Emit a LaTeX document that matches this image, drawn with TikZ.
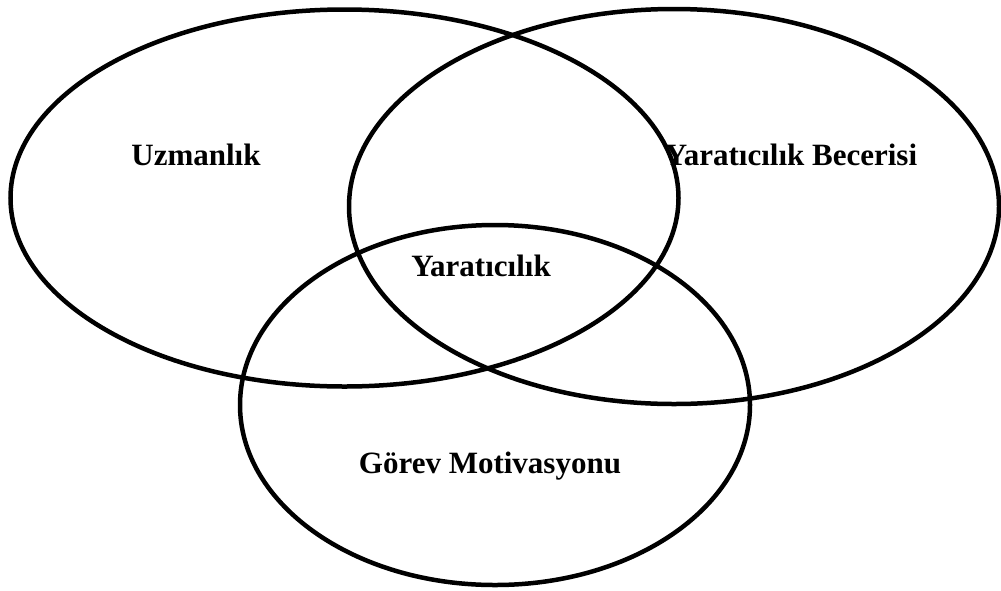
\documentclass[tikz,border=0pt]{standalone}
\usepackage{fontspec}
\setmainfont{Liberation Serif}
\usetikzlibrary{shapes.geometric}
\begin{document}
\begin{tikzpicture}[x=1pt, y=-1pt,
  ring/.style={draw=black, line width=4.5pt, ellipse, inner sep=0pt, outer sep=0pt},
  caption/.style={font=\fontsize{31}{37}\selectfont\bfseries, text=black, inner sep=0pt}]
  \useasboundingbox (0,0) rectangle (1001,590);
  % three overlapping circles of the componential model
  \node[ring, minimum width=668pt, minimum height=377pt] (uzm) at (344.5,198) {};
  \node[ring, minimum width=650pt, minimum height=395pt] (bec) at (674,206.5) {};
  \node[ring, minimum width=510pt, minimum height=360pt] (mot) at (495,405) {};
  % labels
  \node[caption] (luzm) at (196,155) {Uzmanlık};
  \node[caption] (lbec) at (791,155) {Yaratıcılık Becerisi};
  \node[caption] (lyar) at (481,266) {Yaratıcılık};
  \node[caption] (lmot) at (490,466) {Görev Motivasyonu};
\end{tikzpicture}
\end{document}
